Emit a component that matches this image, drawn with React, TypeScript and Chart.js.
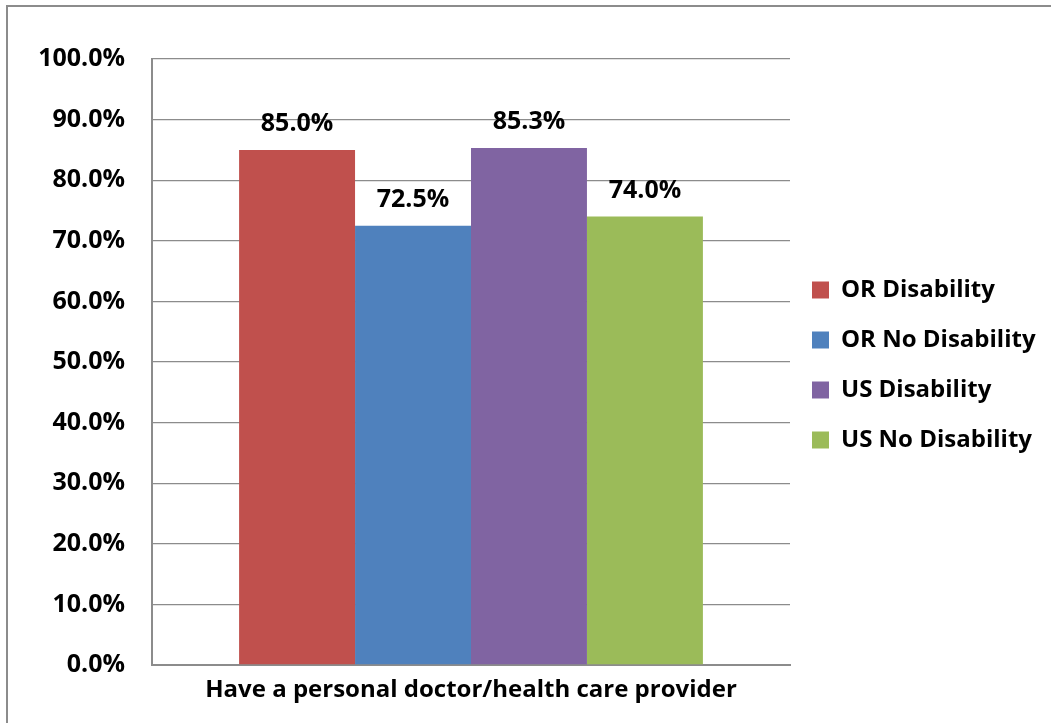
import React, { useEffect, useRef } from "react";
import { Chart, registerables } from "chart.js";

Chart.register(...registerables);

const categories = ["Have a personal doctor/health care provider"];
const seriesNames = ["OR Disability", "OR No Disability", "US Disability", "US No Disability"];
const seriesValues = [[85.0], [72.5], [85.3], [74.0]];
const seriesColors = ["#C0504D", "#4F81BD", "#8064A2", "#9BBB59"];
const yTicks = [0, 10, 20, 30, 40, 50, 60, 70, 80, 90, 100];

const FONT = "'Open Sans', 'DejaVu Sans', sans-serif";

export default function App() {
  const ref = useRef<HTMLCanvasElement | null>(null);

  useEffect(() => {
    if (!ref.current) return;

    const framePlugin = {
      id: "frame",
      beforeDraw(chart: any) {
        const ctx = chart.ctx;
        ctx.save();
        ctx.fillStyle = "#ffffff";
        ctx.fillRect(0, 0, chart.width, chart.height);
        ctx.fillStyle = "#8c8c8c";
        ctx.fillRect(6, 5, 2, 800);
        ctx.fillRect(6, 5, 1100, 2);
        ctx.restore();
      },
      afterDraw(chart: any) {
        const ctx = chart.ctx;
        ctx.save();
        ctx.fillStyle = "#ffffff";
        ctx.fillRect(1044, 8, 20, 800);
        ctx.restore();
      },
    };

    const labelPlugin = {
      id: "valueLabels",
      afterDatasetsDraw(chart: any) {
        const ctx = chart.ctx;
        ctx.save();
        ctx.font = `bold 25px ${FONT}`;
        ctx.fillStyle = "#000";
        ctx.textAlign = "center";
        ctx.textBaseline = "middle";
        chart.data.datasets.forEach((ds: any, i: number) => {
          const meta = chart.getDatasetMeta(i);
          meta.data.forEach((el: any, j: number) => {
            const v = ds.data[j] as number;
            ctx.fillText(v.toFixed(1) + "%", el.x, el.y - 26);
          });
        });
        ctx.restore();
      },
    };

    const legendPlugin = {
      id: "legendAdjust",
      afterLayout(chart: any) {
        const lg = chart.legend;
        if (!lg) return;
        lg.left = 786;
        lg.right = 1051;
        lg.top = 5;
        lg.bottom = 725;
      },
    };

    const chart = new Chart(ref.current, {
      type: "bar",
      data: {
        labels: categories,
        datasets: seriesNames.map((name, i) => ({
          label: name,
          data: seriesValues[i],
          backgroundColor: seriesColors[i],
          borderWidth: 0,
          categoryPercentage: 0.727,
          barPercentage: 1.0,
        })),
      },
      options: {
        animation: false,
        responsive: true,
        maintainAspectRatio: false,
        layout: { padding: { top: 59, bottom: 0, left: 0, right: 0 } },
        plugins: {
          tooltip: { enabled: false },
          legend: {
            position: "right",
            labels: {
              boxWidth: 17,
              boxHeight: 17,
              padding: 26,
              color: "#000",
              font: { family: FONT, size: 24, weight: "bold" },
            },
          },
        },
        scales: {
          x: {
            grid: { display: false, drawTicks: false },
            border: { display: true, color: "#8c8c8c", width: 2 },
            ticks: {
              color: "#000",
              padding: 11,
              font: { family: FONT, size: 24, weight: "bold" },
            },
            afterFit(scale: any) {
              scale.height = 58;
            },
          },
          y: {
            min: 0,
            max: 100,
            afterBuildTicks(scale: any) {
              scale.ticks = yTicks.map((v) => ({ value: v }));
            },
            grid: { color: "#8c8c8c", lineWidth: 1.3, drawTicks: false },
            border: { display: true, color: "#8c8c8c", width: 2 },
            ticks: {
              color: "#000",
              padding: 27,
              font: { family: FONT, size: 25, weight: "bold" },
              callback: (v: any) => Number(v).toFixed(1) + "%",
            },
            afterFit(scale: any) {
              scale.width = 152;
            },
          },
        },
      },
      plugins: [framePlugin, labelPlugin, legendPlugin],
    } as any);

    const lg: any = chart.legend;
    if (lg) {
      const origFit = lg.fit.bind(lg);
      lg.fit = function () {
        origFit();
        this.width = 261;
      };
      chart.update();
    }

    return () => chart.destroy();
  }, []);

  return (
    <div
      style={{
        position: "fixed",
        left: 0,
        top: 0,
        width: 1051,
        height: 723,
        overflow: "hidden",
        background: "#fff",
      }}
    >
      <canvas ref={ref} style={{ display: "block" }} />
    </div>
  );
}
